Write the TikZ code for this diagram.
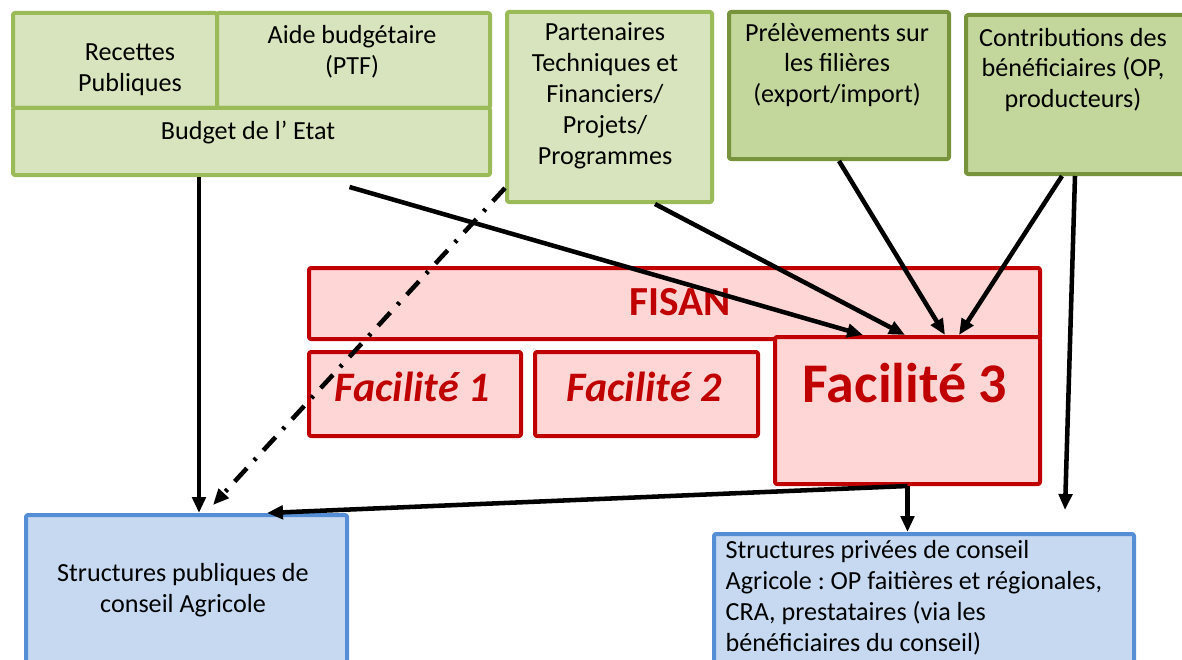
\documentclass[tikz,border=0pt]{standalone}
\usepackage{fontspec}
\setmainfont{Carlito}
\usetikzlibrary{calc,arrows.meta}
\frenchspacing
\definecolor{vertclair}{RGB}{215,228,189}
\definecolor{vertbord}{RGB}{155,187,89}
\definecolor{vertfonce}{RGB}{195,214,155}
\definecolor{vertfbord}{RGB}{119,147,60}
\definecolor{rougef}{RGB}{192,0,0}
\definecolor{rose}{RGB}{255,214,214}
\definecolor{bleuclair}{RGB}{198,217,241}
\definecolor{bleubord}{RGB}{85,142,213}
\tikzset{
  cadre/.style={line width=3pt,rounded corners=1.5pt,anchor=north west,inner sep=0pt},
  vclair/.style={cadre,draw=vertbord,fill=vertclair},
  vfonce/.style={cadre,draw=vertfbord,fill=vertfonce},
  rouge/.style={cadre,draw=rougef,fill=rose},
  bleu/.style={cadre,draw=bleubord,fill=bleuclair},
  texte/.style={align=center},
  fleche/.style={line width=3.4pt,-{Triangle[length=12pt,width=10pt]}},
  pointtiret/.style={dash pattern=on 13.5pt off 8pt on 2.25pt off 8pt}
}
% boite : style, nom, x1, y1, x2, y2 (en pixels)
\newcommand\boite[6]{\node[#1,minimum width={(#5-#3)*0.75pt},minimum height={(#6-#4)*0.75pt}] (#2) at (#3,#4) {};}
\begin{document}
\begin{tikzpicture}[x=0.75pt,y=-0.75pt,font=\fontsize{19.6}{23.2}\selectfont,line join=round]
\useasboundingbox (0,0) rectangle (1182,660);
% sources de financement
\boite{vclair}{recettes}{11}{11}{215}{106}
\boite{vclair}{aide}{215}{11}{488}{106}
\boite{vclair}{budget}{11}{106}{488}{173}
\boite{vclair}{ptf}{505}{10}{710}{200}
\boite{vfonce}{prel}{727}{10}{947}{157}
\boite{vfonce}{contrib}{964}{13}{1200}{172}
\node[texte] (trecettes) at (130,70) {Recettes\\Publiques};
\node[texte] (taide) at (352,52) {Aide budgétaire\\(PTF)};
\node[texte] (tbudget) at (248,133) {Budget de l’ Etat};
\node[texte] (tptf) at (605,96) {Partenaires\\Techniques et\\Financiers/\\Projets/\\Programmes};
\node[texte] (tprel) at (837,65) {Prélèvements sur\\les filières\\(export/import)};
\node[texte] (tcontrib) at (1073,70) {Contributions des\\bénéficiaires (OP,\\producteurs)};
% FISAN
\boite{rouge}{fisan}{307}{266}{1038}{337}
\boite{rouge}{fac1}{307}{350}{519}{434}
\boite{rouge}{fac2}{533}{350}{756}{434}
\boite{rouge}{fac3}{773}{335}{1038}{482}
\node[text=rougef,font=\fontsize{31}{37}\selectfont\bfseries] (tfisan) at (680,302) {FISAN};
\node[text=rougef,font=\fontsize{31.5}{37}\selectfont\bfseries\itshape] (tfac1) at (412,387) {Facilité 1};
\node[text=rougef,font=\fontsize{31.5}{37}\selectfont\bfseries\itshape] (tfac2) at (644,387) {Facilité 2};
\node[text=rougef,font=\fontsize{42}{50}\selectfont\bfseries] (tfac3) at (905,383) {Facilité 3};
% structures de conseil
\boite{bleu}{pub}{24}{513}{345}{680}
\boite{bleu}{priv}{712}{532}{1132}{680}
\node[texte] (tpub) at (183,590) {Structures publiques de\\conseil Agricole};
\node[align=left,anchor=west] (tpriv) at (721,598) {Structures privées de conseil\\Agricole : OP faitières et régionales,\\CRA, prestataires (via les\\bénéficiaires du conseil)};
% flux
\draw[fleche] ($(budget.south west)+(188,0)$) coordinate (b1) -- (b1 |- pub.north);
\draw[fleche,pointtiret] ($(ptf.south west)+(0,-16)$) -- ($(pub.north west)+(189,-8)$);
\draw[fleche] ($(budget.south)+(98,10)$) -- ($(fac3.north west)+(90,0)$);
\draw[fleche] ($(ptf.south west)+(150,0)$) -- ($(fac3.north west)+(132,0)$);
\draw[fleche] (prel.south) -- ($(fac3.north west)+(172,0)$);
\draw[fleche] ($(contrib.south west)+(98,0)$) -- ($(fac3.north west)+(186,0)$);
\draw[fleche] ($(contrib.south west)+(111,0)$) -- ($(priv.north west)+(353,-22)$);
\draw[fleche] (fac3.south) -- (fac3.south |- priv.north);
\draw[fleche] (fac3.south) -- ($(pub.north west)+(243,0)$);
\end{tikzpicture}
\end{document}
